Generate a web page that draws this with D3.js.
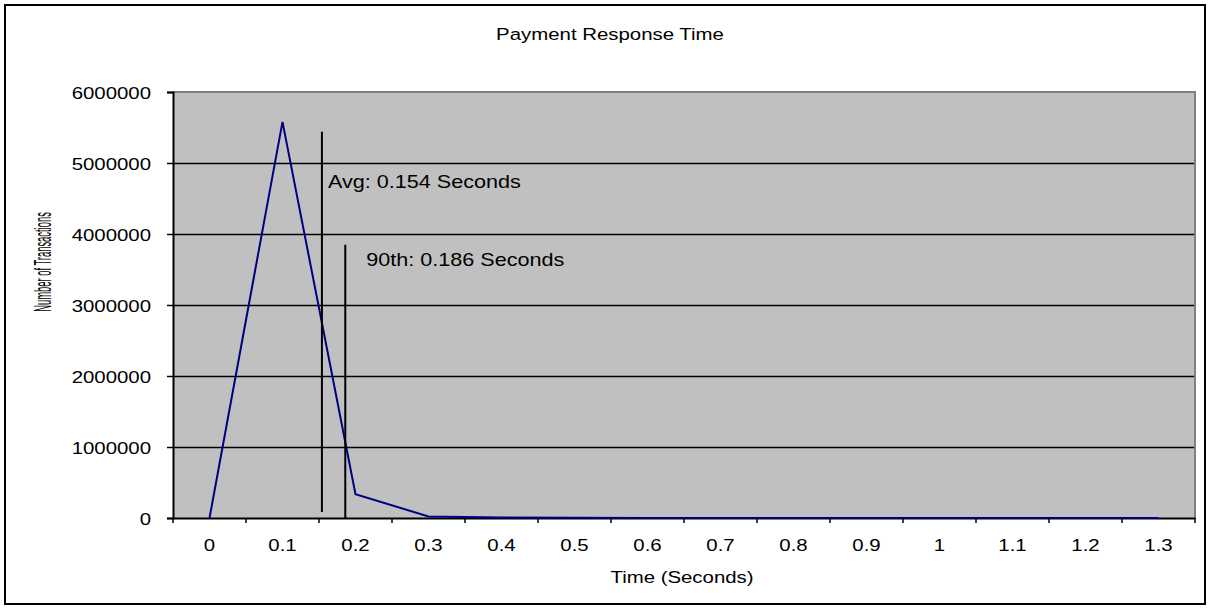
<!DOCTYPE html>
<html>
<head>
<meta charset="utf-8">
<script src="https://cdn.jsdelivr.net/npm/d3@7"></script>
<style>
  html, body { margin: 0; padding: 0; background: #fff; }
  svg { display: block; }
  text { font-family: "Liberation Sans", Arial, sans-serif; fill: #000; }
</style>
</head>
<body>
<svg id="chart" width="1210" height="609"></svg>
<script>
// Response-time buckets (seconds) and transaction counts per bucket
const categories = ["0", "0.1", "0.2", "0.3", "0.4", "0.5", "0.6", "0.7", "0.8", "0.9", "1", "1.1", "1.2", "1.3"];
const transactions = [0, 5580000, 334000, 22000, 6000, 2000, 1000, 500, 300, 200, 100, 100, 50, 50];
const yTicks = [0, 1000000, 2000000, 3000000, 4000000, 5000000, 6000000];

// Summary statistics shown as vertical reference lines
const markers = [
  { label: "Avg: 0.154 Seconds", time: 0.154, top: 5440000, bottom: 85000 },
  { label: "90th: 0.186 Seconds", time: 0.186, top: 3850000, bottom: 0 }
];

const svg = d3.select("#chart");
const plot = { left: 173, right: 1195, top: 92, bottom: 518 };
const sx = 1.2; // horizontal stretch of the text glyphs

// Outer chart frame
svg.append("rect")
  .attr("x", 5).attr("y", 5).attr("width", 1200).attr("height", 599)
  .attr("fill", "#fff").attr("stroke", "#000").attr("stroke-width", 2);

const x = d3.scaleBand().domain(categories).range([plot.left, plot.right]).padding(0);
const bw = x.bandwidth();
const xTime = d3.scaleLinear()
  .domain([0, 1.3])
  .range([x("0") + bw / 2, x("1.3") + bw / 2]);
const y = d3.scaleLinear().domain([0, 6000000]).range([plot.bottom, plot.top]);

// Plot area background
svg.append("rect")
  .attr("x", plot.left).attr("y", plot.top)
  .attr("width", plot.right - plot.left).attr("height", plot.bottom - plot.top)
  .attr("fill", "#c0c0c0");

// Horizontal gridlines
svg.append("g")
  .selectAll("line")
  .data(yTicks.filter(d => d > 0 && d < 6000000))
  .join("line")
  .attr("x1", plot.left).attr("x2", plot.right)
  .attr("y1", d => Math.round(y(d)) + 0.5).attr("y2", d => Math.round(y(d)) + 0.5)
  .attr("stroke", "#000").attr("stroke-width", 1.4);

// Grey plot border on top and right
svg.append("path")
  .attr("d", `M${plot.left},${plot.top}H${plot.right}V${plot.bottom}`)
  .attr("fill", "none").attr("stroke", "#808080").attr("stroke-width", 2);

// Title
svg.append("text")
  .attr("transform", `translate(610,40) scale(${sx},1)`)
  .attr("text-anchor", "middle")
  .attr("font-size", 17)
  .text("Payment Response Time");

// Y axis
const yAxis = svg.append("g")
  .attr("transform", `translate(${plot.left},0)`)
  .call(d3.axisLeft(y).tickValues(yTicks).tickSize(6).tickFormat(d3.format("d")));
yAxis.select(".domain").attr("stroke", "#000").attr("stroke-width", 2);
yAxis.selectAll(".tick line").attr("stroke", "#000").attr("stroke-width", 1.5);
yAxis.selectAll(".tick text")
  .attr("font-family", "Liberation Sans, Arial, sans-serif")
  .attr("font-size", 17)
  .attr("fill", "#000")
  .attr("x", -22 / sx)
  .attr("dy", "0.36em")
  .attr("transform", `scale(${sx},1)`);

// X axis (category labels centred in each band)
const xAxis = svg.append("g")
  .attr("transform", `translate(0,${plot.bottom})`)
  .call(d3.axisBottom(x).tickSize(0).tickSizeOuter(0));
xAxis.select(".domain").attr("stroke", "#000").attr("stroke-width", 2);
xAxis.selectAll(".tick text")
  .attr("font-family", "Liberation Sans, Arial, sans-serif")
  .attr("font-size", 17)
  .attr("fill", "#000")
  .attr("y", 33)
  .attr("dy", null)
  .attr("transform", `scale(${sx},1)`);

// Tick marks on band boundaries
const bounds = categories.map(c => x(c)).concat([x(categories[categories.length - 1]) + bw]);
svg.append("g")
  .selectAll("line")
  .data(bounds)
  .join("line")
  .attr("x1", d => d).attr("x2", d => d)
  .attr("y1", plot.bottom).attr("y2", plot.bottom + 5)
  .attr("stroke", "#000").attr("stroke-width", 1.5);

// Axis titles
svg.append("text")
  .attr("transform", `translate(682,583) scale(${sx},1)`)
  .attr("text-anchor", "middle")
  .attr("font-size", 17)
  .text("Time (Seconds)");

svg.append("text")
  .attr("transform", "translate(51,262) rotate(-90) scale(1,2.5)")
  .attr("text-anchor", "middle")
  .attr("font-size", 9.4)
  .text("Number of Transactions");

// Transaction count series
const line = d3.line()
  .x((d, i) => x(categories[i]) + bw / 2)
  .y(d => y(d));
svg.append("path")
  .datum(transactions)
  .attr("d", line)
  .attr("fill", "none")
  .attr("stroke", "#000080")
  .attr("stroke-width", 2)
  .attr("stroke-linejoin", "miter");

// Average / 90th percentile markers
const mk = svg.append("g").selectAll("g").data(markers).join("g");
mk.append("line")
  .attr("x1", d => xTime(d.time)).attr("x2", d => xTime(d.time))
  .attr("y1", d => y(d.top)).attr("y2", d => y(d.bottom))
  .attr("stroke", "#000").attr("stroke-width", 2);
mk.append("text")
  .attr("transform", (d, i) => {
    const tx = xTime(d.time) + (i === 0 ? 6 : 21);
    const ty = y(d.top) + (i === 0 ? 56 : 21);
    return `translate(${tx},${ty}) scale(${sx},1)`;
  })
  .attr("font-size", 18)
  .text(d => d.label);
</script>
</body>
</html>
